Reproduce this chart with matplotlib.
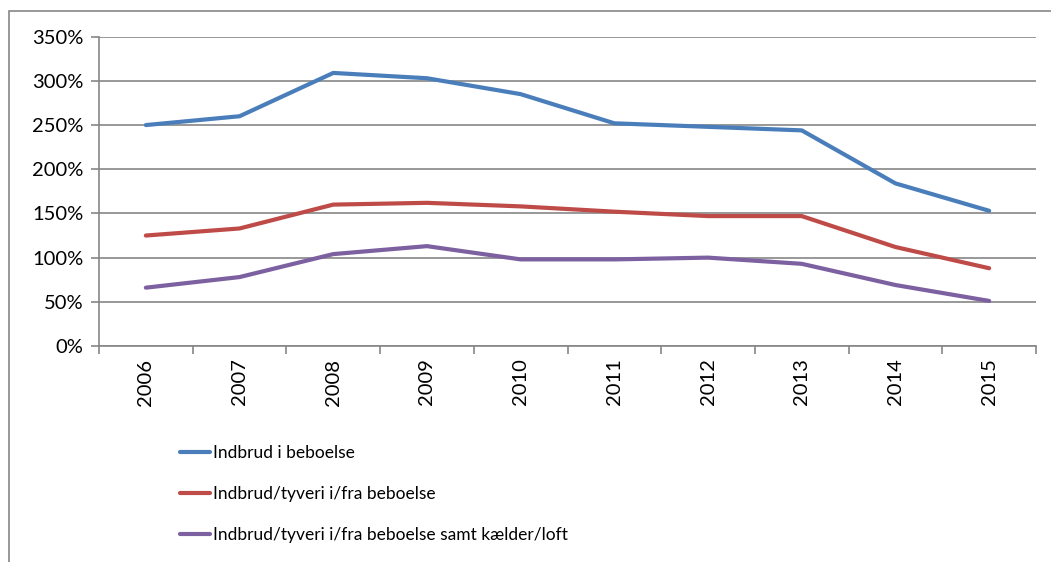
import matplotlib
matplotlib.use("Agg")
import matplotlib.pyplot as plt
from matplotlib.patches import Rectangle
import numpy as np

years = ["2006", "2007", "2008", "2009", "2010", "2011", "2012", "2013", "2014", "2015"]
indbrud = [250, 260, 309, 303, 285, 252, 248, 244, 184, 153]
tyveri = [125, 133, 160, 162, 158, 152, 147, 147, 112, 88]
kaelder = [66, 78, 104, 113, 98, 98, 100, 93, 69, 51]
series_names = ["Indbrud i beboelse", "Indbrud/tyveri i/fra beboelse",
                "Indbrud/tyveri i/fra beboelse samt kælder/loft"]
colors = ["#4A7EBB", "#BE4B48", "#7D60A0"]
yticks = [0, 50, 100, 150, 200, 250, 300, 350]

plt.rcParams['font.family'] = ['Lato', 'DejaVu Sans']

W, H = 1051, 562
fig = plt.figure(figsize=(W / 100, H / 100), dpi=100)

# outer chart frame
fig.patches.append(Rectangle((9 / W, -0.1), 1.2, 1 - 11 / H + 0.1, transform=fig.transFigure,
                             fill=False, edgecolor="#868686", linewidth=1.2))

ax = fig.add_axes([99 / W, 1 - 346 / H, (1036 - 99) / W, (346 - 36.7) / H])
x = np.arange(len(years))
lines = []
for vals, c in zip([indbrud, tyveri, kaelder], colors):
    l, = ax.plot(x, vals, color=c, linewidth=3.0, solid_capstyle="round", solid_joinstyle="round")
    lines.append(l)

ax.set_xlim(-0.5, len(years) - 0.5)
ax.set_ylim(0, 350)
ax.set_yticks(yticks)
ax.set_yticklabels([f"{v}%" for v in yticks], fontsize=14.5)
ax.yaxis.grid(True, color="#868686", linewidth=1.2)
ax.set_axisbelow(True)

ax.set_xticks(np.arange(len(years) + 1) - 0.5)
ax.set_xticklabels([])
ax.set_xticks(x, minor=True)
ax.set_xticklabels(years, minor=True, rotation=90, fontsize=14.5)
ax.tick_params(axis="x", which="major", length=6, color="#868686", width=1.2)
ax.tick_params(axis="x", which="minor", length=0, pad=9)
ax.tick_params(axis="y", length=6, color="#868686", width=1.2, pad=5)

for s in ["top", "right"]:
    ax.spines[s].set_visible(False)
for s in ["left", "bottom"]:
    ax.spines[s].set_color("#868686")
    ax.spines[s].set_linewidth(1.2)

leg = fig.legend(lines, series_names, loc="upper left", bbox_to_anchor=(173 / W, 1 - 438 / H),
                 frameon=False, prop={'size': 12.5},
                 handlelength=1.75, handletextpad=0.15,
                 labelspacing=1.45, borderaxespad=0)

fig.savefig("out.png", dpi=100)
